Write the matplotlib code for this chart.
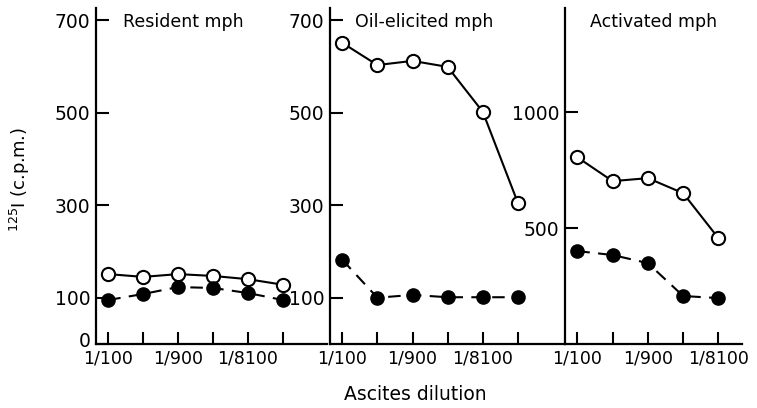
import matplotlib
matplotlib.use("Agg")
import matplotlib.pyplot as plt
import matplotlib.transforms as mtransforms

plt.rcParams['font.family'] = ['DejaVu Sans']

# dilution steps (threefold), tick labels on every other step
dilutions = ["1/100", "1/300", "1/900", "1/2700", "1/8100", "1/24300"]
shown_labels = {"1/100", "1/900", "1/8100"}

titles = ["Resident mph", "Oil-elicited mph", "Activated mph"]

resident_open = [151, 145, 151, 147, 140, 128]
resident_filled = [95, 108, 123, 121, 110, 95]

oil_open = [651, 603, 612, 599, 502, 305]
oil_filled = [182, 100, 106, 101, 101, 101]

activated_open = [806, 703, 716, 651, 457]
activated_filled = [401, 384, 349, 207, 198]

yticks_12 = [0, 100, 300, 500, 700]
yticks_3 = [500, 1000]


def draw_panel(ax, open_vals, filled_vals, yticks, ylim, xright, show_zero=True):
    x = list(range(len(open_vals)))
    ax.plot(x, open_vals, '-', color='black', lw=1.5, marker='o', ms=9.5,
            mfc='white', mec='black', mew=1.5, zorder=3)
    ax.plot(x, filled_vals, '--', color='black', lw=1.5, dashes=(6, 4), marker='o',
            ms=9.5, mfc='black', mec='black', zorder=3)
    ax.set_xlim(-0.35, xright)
    ax.set_ylim(0, ylim)
    ax.set_xticks(x)
    ax.set_xticklabels([d if d in shown_labels else "" for d in dilutions[:len(x)]])
    ticks = yticks if show_zero else [t for t in yticks if t != 0]
    ax.set_yticks(ticks)
    ax.tick_params(axis='both', which='major', direction='in', length=9,
                   width=1.5, color='black')
    ax.tick_params(axis='x', pad=4, labelsize=12.5)
    ax.tick_params(axis='y', pad=4, labelsize=13.5)
    for side in ['top', 'right']:
        ax.spines[side].set_visible(False)
    for side in ['left', 'bottom']:
        ax.spines[side].set_linewidth(1.6)
    ax.set_facecolor('none')


fig = plt.figure(figsize=(7.57, 4.08), dpi=100)
bottom, height = 0.157, 0.823
ax1 = fig.add_axes([0.1268, bottom, 0.3052, height])
ax2 = fig.add_axes([0.4359, bottom, 0.3104, height])
ax3 = fig.add_axes([0.7464, bottom, 0.2338, height])

draw_panel(ax1, resident_open, resident_filled, yticks_12, 726, 6.26)
draw_panel(ax2, oil_open, oil_filled, yticks_12, 726, 6.34, show_zero=False)
draw_panel(ax3, activated_open, activated_filled, yticks_3, 1450, 4.67)

# the "0" label sits a little above the x axis in the original
zero_label = ax1.yaxis.get_major_ticks()[0].label1
zero_label.set_transform(zero_label.get_transform() +
                         mtransforms.ScaledTranslation(0, 0.045, fig.dpi_scale_trans))

ax1.text(0.115, 0.985, titles[0], transform=ax1.transAxes, fontsize=12.5, va='top')
ax2.text(0.105, 0.985, titles[1], transform=ax2.transAxes, fontsize=12.5, va='top')
ax3.text(0.14, 0.985, titles[2], transform=ax3.transAxes, fontsize=12.5, va='top')

fig.text(0.027, 0.56, r"$^{125}$I (c.p.m.)", rotation=90, fontsize=13, va='center', ha='center')
fig.text(0.548, 0.01, "Ascites dilution", fontsize=13.5, ha='center', va='bottom')

fig.savefig("out.png", dpi=100)
